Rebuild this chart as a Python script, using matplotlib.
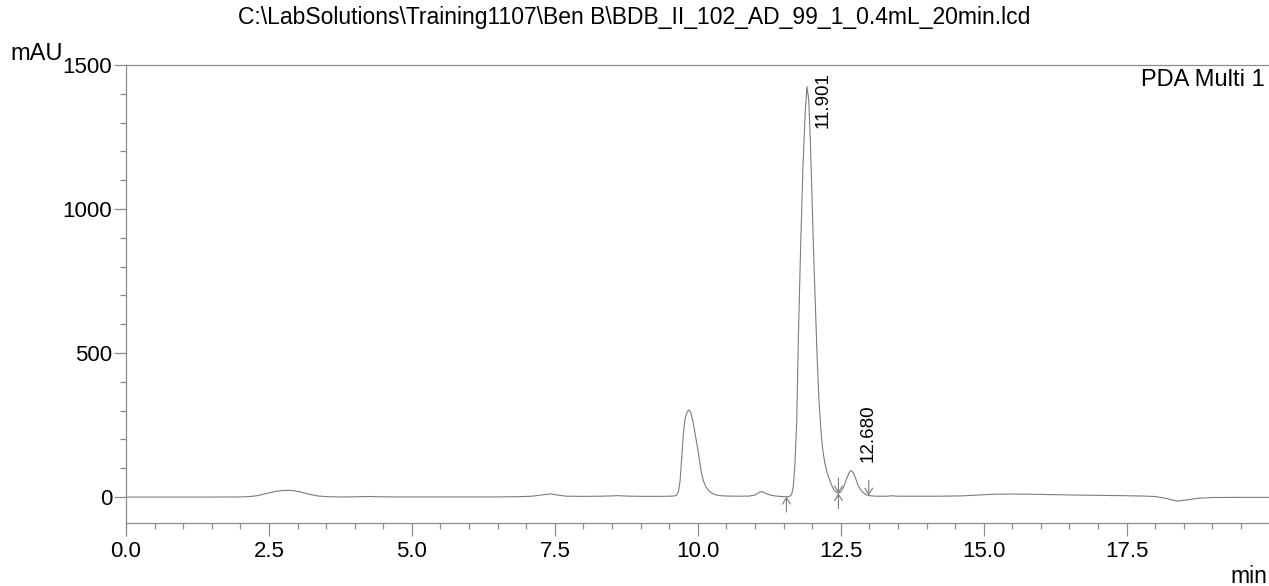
import numpy as np
import matplotlib
matplotlib.use('Agg')
import matplotlib.pyplot as plt
from matplotlib.ticker import MultipleLocator, FormatStrFormatter

plt.rcParams['font.family'] = ['Liberation Sans', 'DejaVu Sans']

# chromatogram trace (min, mAU)
rt = [0.0, 0.5, 1.0, 1.5, 2.0, 2.15, 2.3, 2.45, 2.6, 2.75, 2.9, 3.05, 3.2, 3.35, 3.5,
      3.7, 3.9, 4.1, 4.25, 4.4, 4.7, 5.5, 6.5, 6.9, 7.1, 7.3, 7.42, 7.55, 7.7, 8.0,
      8.3, 8.5, 8.6, 8.75, 9.0, 9.3, 9.5, 9.6, 9.63, 9.66, 9.69, 9.72, 9.75, 9.78,
      9.82, 9.85, 9.88, 9.92, 9.96, 10.0, 10.03, 10.06, 10.1, 10.15, 10.2, 10.27,
      10.35, 10.45, 10.7, 10.9, 11.0, 11.05, 11.1, 11.15, 11.2, 11.27, 11.35, 11.45,
      11.55, 11.6, 11.64, 11.67, 11.7, 11.73, 11.76, 11.8, 11.84, 11.88, 11.91, 11.94,
      11.97, 12.0, 12.03, 12.06, 12.09, 12.12, 12.15, 12.18, 12.22, 12.26, 12.3, 12.34,
      12.38, 12.42, 12.46, 12.5, 12.55, 12.6, 12.65, 12.68, 12.72, 12.76, 12.8, 12.85,
      12.9, 12.95, 13.0, 13.1, 13.3, 13.4, 13.5, 13.8, 14.2, 14.6, 14.9, 15.2, 15.5,
      15.8, 16.2, 16.6, 17.0, 17.4, 17.8, 18.0, 18.2, 18.38, 18.55, 18.75, 19.0, 19.5,
      20.0]
mau = [0, 0, 0, 0, 0.5, 1.5, 5, 12, 19, 23, 23, 18, 10, 4, 1.5,
       0.5, 0.5, 1.5, 2, 1, 0.5, 0.5, 0.5, 1.5, 3, 8, 11, 7, 3, 2.5,
       3, 4, 5, 3.5, 2.5, 2.5, 3, 4, 7, 18, 55, 140, 225, 275,
       298, 302, 292, 258, 212, 166, 126, 88, 55, 33, 20, 11,
       6, 4, 3, 3.5, 7, 14, 19, 17, 12, 7, 4, 2,
       1, 2, 8, 35, 120, 260, 560, 880, 1150, 1340, 1425, 1380,
       1230, 1020, 820, 640, 470, 335, 240, 172, 120, 86, 62, 42,
       26, 17, 13, 18, 35, 62, 86, 92, 85, 65, 42, 25,
       14, 8, 5, 3, 3, 4.5, 3, 3, 3, 4, 7, 10, 10.5,
       10, 8.5, 7, 6, 5, 3.5, 2, -5, -14, -10, -4, -1.5, -1,
       -1]

# labelled peaks
peak_rt = [11.901, 12.680]
peak_labels = ['11.901', '12.680']

# integration marks
mark_rt = [11.55, 12.46, 12.99]
mark_kind = ['up', 'both', 'down']

title = r'C:\LabSolutions\Training1107\Ben B\BDB_II_102_AD_99_1_0.4mL_20min.lcd'

line_col = '#7c7c7c'
axis_col = '#8c8c8c'

fig = plt.figure(figsize=(12.69, 5.86), dpi=100)
ax = fig.add_axes([126 / 1269, 63 / 586, (1269 - 126) / 1269, 458 / 586])

ax.plot(rt, mau, color=line_col, lw=0.8)
ax.set_xlim(0, 19.99)
ax.set_ylim(-90, 1500)

# spines / ticks
ax.spines['right'].set_visible(False)
for s in ['left', 'bottom', 'top']:
    ax.spines[s].set_color(axis_col)
    ax.spines[s].set_linewidth(0.9)
ax.xaxis.set_major_locator(MultipleLocator(2.5))
ax.xaxis.set_minor_locator(MultipleLocator(0.5))
ax.xaxis.set_major_formatter(FormatStrFormatter('%.1f'))
ax.yaxis.set_major_locator(MultipleLocator(500))
ax.yaxis.set_minor_locator(MultipleLocator(100))
ax.tick_params(which='major', length=9, width=0.9, color=axis_col, labelsize=16)
ax.tick_params(which='minor', length=4.5, width=0.9, color=axis_col)
ax.tick_params(axis='x', which='major', pad=4)
ax.tick_params(axis='y', which='major', pad=1)
ax.tick_params(top=False, right=False)

# integration marks
ahead = dict(arrowstyle='->,head_length=0.45,head_width=0.28', color=line_col, lw=0.8,
             shrinkA=0, shrinkB=0)
for t, kind in zip(mark_rt, mark_kind):
    yb = np.interp(t, rt, mau)
    if kind in ('up', 'both'):
        ax.annotate('', xy=(t, yb), xytext=(0, -11), textcoords='offset points', arrowprops=ahead)
    if kind in ('down', 'both'):
        ax.annotate('', xy=(t, yb), xytext=(0, 11), textcoords='offset points', arrowprops=ahead)

# peak labels
fig.canvas.draw()
ax_top = ax.get_window_extent().y1
for t, lab in zip(peak_rt, peak_labels):
    h = np.interp(t, rt, mau)
    txt = ax.annotate(lab, xy=(t, h), xytext=(12, 6), textcoords='offset points',
                      rotation=90, ha='center', va='bottom', fontsize=13.5)
    fig.canvas.draw()
    if txt.get_window_extent().y1 > ax_top - 4:
        txt.remove()
        ax.annotate(lab, xy=(t, 1), xycoords=('data', 'axes fraction'), xytext=(12, -5),
                    textcoords='offset points', rotation=90, ha='center', va='top',
                    fontsize=13.5)

fig.text(0.5, 1 - 24 / 586, title, ha='center', va='baseline', fontsize=16.5)
fig.text(10 / 1269, 1 - 60 / 586, 'mAU', ha='left', va='baseline', fontsize=17)
fig.text(1265 / 1269, 1 - 86 / 586, 'PDA Multi 1', ha='right', va='baseline', fontsize=17)
fig.text(1267 / 1269, 1 - 583 / 586, 'min', ha='right', va='baseline', fontsize=16.5)

fig.savefig('out.png', dpi=100)
